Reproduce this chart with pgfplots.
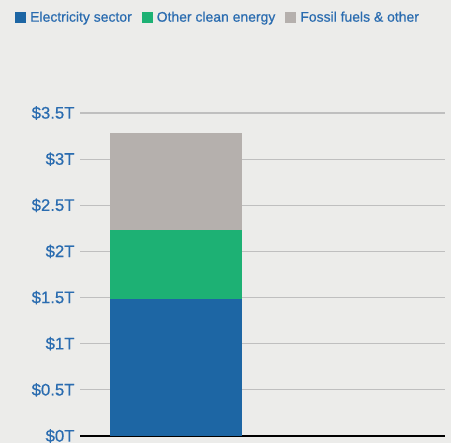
\documentclass[border=0pt]{standalone}
\usepackage{pgfplots}
\pgfplotsset{compat=1.18}
\usepackage{fontspec}
\setmainfont{Liberation Sans}[FakeBold=0.6]
\newfontfamily\medfont{Liberation Sans}[FakeBold=0.6]
\definecolor{bg}{HTML}{ECECEA}
\definecolor{cblue}{HTML}{1D66A4}
\definecolor{cgreen}{HTML}{1DB174}
\definecolor{cgray}{HTML}{B5B0AD}
\definecolor{tblue}{HTML}{2A6CB0}
\definecolor{grid}{HTML}{C8C8C6}
\begin{document}
\begin{tikzpicture}[x=1bp,y=1bp]
\fill[bg] (0,0) rectangle (451,443);
\begin{axis}[
  at={(80bp,7bp)}, anchor=south west,
  scale only axis, width=365bp, height=323bp,
  xmin=80, xmax=445, ymin=0, ymax=3.5,
  ybar stacked, bar width=132bp,
  axis x line*=bottom, axis y line*=left,
  y axis line style={draw=none},
  x axis line style={black, line width=2.6pt, -},
  xtick=\empty,
  ytick={0,0.5,1,1.5,2,2.5,3,3.5},
  yticklabels={\$0T,\$0.5T,\$1T,\$1.5T,\$2T,\$2.5T,\$3T,\$3.5T},
  yticklabel style={font=\medfont\fontsize{16.8}{18}\selectfont, text=tblue, anchor=east, xshift=-2bp},
  ymajorgrids, major grid style={grid, line width=1.2pt},
  major tick length=0pt,
  clip=false,
  legend columns=3,
  legend style={at={(-0.178,1.296)}, anchor=west, draw=none, fill=none, inner sep=0pt,
    font=\medfont\fontsize{14}{16}\selectfont, text=tblue,
    /tikz/every odd column/.append style={column sep=2bp},
    /tikz/every even column/.append style={column sep=8bp}},
  legend image code/.code={\fill[#1] (0bp,-5.5bp) rectangle (11bp,5.5bp);},
]
\addplot[fill=cblue, draw=none] coordinates {(176,1.48)};
\addplot[fill=cgreen, draw=none] coordinates {(176,0.75)};
\addplot[fill=cgray, draw=none] coordinates {(176,1.05)};
\legend{Electricity sector,Other clean energy,Fossil fuels \& other}
\end{axis}
\end{tikzpicture}
\end{document}
